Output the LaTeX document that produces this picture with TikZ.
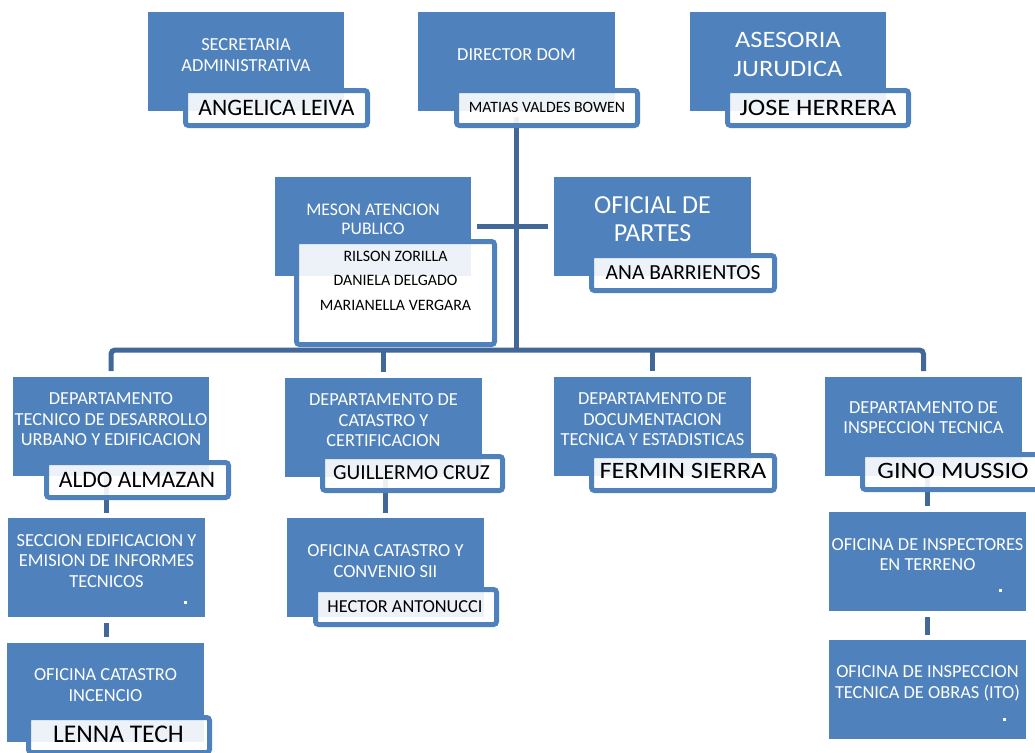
\documentclass[tikz,border=0pt]{standalone}
\usepackage{fontspec}
\setmainfont{Carlito}
\newfontfamily\widefont[FakeStretch=1.12]{Carlito}
\definecolor{boxblue}{RGB}{79,129,189}
\definecolor{connblue}{RGB}{65,104,152}
\tikzset{
  bluebox/.style={fill=boxblue, draw=none, inner sep=0pt, outer sep=0pt},
  namebox/.style={fill=white, fill opacity=0.9, draw=boxblue, draw opacity=1, line width=5pt, rounded corners=3pt, inner sep=0pt, outer sep=0pt},
  conn/.style={draw=connblue, line width=5pt},
  ttl/.style={text=white, anchor=base, inner sep=0pt, font=\fontsize{18.4}{20}\selectfont},
  nm/.style={text=black, anchor=base, inner sep=0pt},
  dotsq/.style={fill=white, draw=none, inner sep=0pt, minimum size=3pt}
}
\begin{document}
\begin{tikzpicture}[x=1pt,y=-1pt]
\fill[white] (0,0) rectangle (1035,752);
\useasboundingbox (0,0) rectangle (1035,752);

% blue boxes
\node[bluebox, minimum width=196pt, minimum height=99pt] (sec) at (246,61.5) {};
\node[bluebox, minimum width=197pt, minimum height=99pt] (dir) at (516.5,61.5) {};
\node[bluebox, minimum width=196pt, minimum height=99pt] (ase) at (788,61.5) {};
\node[bluebox, minimum width=196pt, minimum height=99pt] (mes) at (373,226.5) {};
\node[bluebox, minimum width=197pt, minimum height=99pt] (ofi) at (652.5,226.5) {};
\node[bluebox, minimum width=196pt, minimum height=99pt] (d1) at (111,426.5) {};
\node[bluebox, minimum width=197pt, minimum height=99pt] (d2) at (383.5,427.5) {};
\node[bluebox, minimum width=197pt, minimum height=99pt] (d3) at (652.5,426.5) {};
\node[bluebox, minimum width=197pt, minimum height=99pt] (d4) at (923.5,426.5) {};
\node[bluebox, minimum width=197pt, minimum height=99pt] (sec1) at (106.5,567.5) {};
\node[bluebox, minimum width=197pt, minimum height=99pt] (cat) at (105.5,692.5) {};
\node[bluebox, minimum width=197pt, minimum height=99pt] (conv) at (385.5,567.5) {};
\node[bluebox, minimum width=197pt, minimum height=99pt] (insp) at (927.5,561.5) {};
\node[bluebox, minimum width=197pt, minimum height=99pt] (ito) at (927.5,689.5) {};

% connectors
\coordinate (bus) at (516.5,350);
\draw[conn] ([yshift=-6pt]dir.south) -- (bus);
\draw[conn, rounded corners=4pt] ([yshift=6pt]d1.north) |- (bus) -| ([yshift=6pt]d4.north);
\draw[conn] ([yshift=6pt]d2.north) -- (d2.north |- bus);
\draw[conn] ([yshift=6pt]d3.north) -- (d3.north |- bus);
\draw[conn] ([xshift=6pt]mes.east) -- ([xshift=-6pt]ofi.west);
\draw[conn] ([yshift=5pt]sec1.north) -- ([yshift=5pt]sec1.north |- d1.south);
\draw[conn] ([yshift=-6pt]sec1.south) -- ([yshift=6pt]cat.north -| sec1.south);
\draw[conn] ([yshift=5pt]conv.north) -- (conv.north |- d2.south);
\draw[conn] ([yshift=6pt]insp.north) -- (insp.north |- d4.south);
\draw[conn] ([yshift=-6pt]insp.south) -- ([yshift=5pt]ito.north);

% name boxes
\node[namebox, minimum width=182pt, minimum height=35pt] (nsec) at (276.5,108) {};
\node[namebox, minimum width=181pt, minimum height=35pt] (ndir) at (547,108) {};
\node[namebox, minimum width=181pt, minimum height=35pt] (nase) at (818,108) {};
\node[namebox, minimum width=198pt, minimum height=103pt] (nmes) at (395.5,293) {};
\node[namebox, minimum width=183pt, minimum height=35pt] (nofi) at (683,273) {};
\node[namebox, minimum width=182pt, minimum height=35pt] (nd1) at (137.5,480) {};
\node[namebox, minimum width=180pt, minimum height=34pt] (nd2) at (412.5,473.5) {};
\node[namebox, minimum width=183pt, minimum height=35pt] (nd3) at (683,473) {};
\node[namebox, minimum width=181pt, minimum height=35pt] (nd4) at (953,472) {};
\node[namebox, minimum width=181pt, minimum height=35pt] (ncat) at (119,735) {};
\node[namebox, minimum width=181pt, minimum height=35pt] (nconv) at (406,607) {};

% titles
\node[ttl] (tsec1) at (246,50.7) {SECRETARIA};
\node[ttl] (tsec2) at (246,71) {ADMINISTRATIVA};
\node[ttl] (tdir) at (516.5,60) {DIRECTOR DOM};
\node[ttl, font=\widefont\fontsize{23.5}{26}\selectfont] (tase1) at (788,47.7) {ASESORIA};
\node[ttl, font=\widefont\fontsize{23.5}{26}\selectfont] (tase2) at (788,76.7) {JURUDICA};
\node[ttl, font=\fontsize{17.7}{20}\selectfont] (tmes1) at (373,215) {MESON ATENCION};
\node[ttl, font=\fontsize{17.7}{20}\selectfont] (tmes2) at (373,234.3) {PUBLICO};
\node[ttl, font=\fontsize{26}{30}\selectfont] (tofi1) at (652.5,213.3) {OFICIAL DE};
\node[ttl, font=\fontsize{26}{30}\selectfont] (tofi2) at (652.5,241.7) {PARTES};
\node[ttl] (td1a) at (111,404) {DEPARTAMENTO};
\node[ttl] (td1b) at (111,425) {TECNICO DE DESARROLLO};
\node[ttl] (td1c) at (111,445) {URBANO Y EDIFICACION};
\node[ttl] (td2a) at (383.5,405) {DEPARTAMENTO DE};
\node[ttl] (td2b) at (383.5,426) {CATASTRO Y};
\node[ttl] (td2c) at (383.5,446.5) {CERTIFICACION};
\node[ttl] (td3a) at (652.5,404) {DEPARTAMENTO DE};
\node[ttl] (td3b) at (652.5,425) {DOCUMENTACION};
\node[ttl] (td3c) at (652.5,445) {TECNICA Y ESTADISTICAS};
\node[ttl] (td4a) at (923.5,413.3) {DEPARTAMENTO DE};
\node[ttl] (td4b) at (923.5,433.3) {INSPECCION TECNICA};
\node[ttl] (tsa) at (106.5,546) {SECCION EDIFICACION Y};
\node[ttl] (tsb) at (106.5,566.7) {EMISION DE INFORMES};
\node[ttl] (tsc) at (106.5,587.3) {TECNICOS};
\node[ttl] (tca) at (105.5,680) {OFICINA CATASTRO};
\node[ttl] (tcb) at (105.5,701) {INCENCIO};
\node[ttl] (tva) at (385.5,556.7) {OFICINA CATASTRO Y};
\node[ttl] (tvb) at (385.5,577.3) {CONVENIO SII};
\node[ttl] (tia) at (927.5,550) {OFICINA DE INSPECTORES};
\node[ttl] (tib) at (927.5,570.7) {EN TERRENO};
\node[ttl] (toa) at (927.5,677.3) {OFICINA DE INSPECCION};
\node[ttl] (tob) at (927.5,698) {TECNICA DE OBRAS (ITO)};

% names
\node[nm, font=\fontsize{23.6}{26}\selectfont] (mnsec) at (276.5,115) {ANGELICA LEIVA};
\node[nm, font=\fontsize{15.8}{18}\selectfont] (mndir) at (547,112.7) {MATIAS VALDES BOWEN};
\node[nm, font=\widefont\fontsize{23.5}{26}\selectfont] (mnase) at (818,115) {JOSE HERRERA};
\node[nm, font=\fontsize{15.9}{18}\selectfont] (mnm1) at (395.5,261.7) {RILSON ZORILLA};
\node[nm, font=\fontsize{15.9}{18}\selectfont] (mnm2) at (395.5,285.7) {DANIELA DELGADO};
\node[nm, font=\fontsize{15.9}{18}\selectfont] (mnm3) at (395.5,310) {MARIANELLA VERGARA};
\node[nm, font=\fontsize{21.5}{24}\selectfont] (mnofi) at (683,279.5) {ANA BARRIENTOS};
\node[nm, font=\fontsize{23.6}{26}\selectfont] (mnd1) at (137,487) {ALDO ALMAZAN};
\node[nm, font=\fontsize{21.4}{24}\selectfont] (mnd2) at (411.5,479) {GUILLERMO CRUZ};
\node[nm, font=\widefont\fontsize{23.5}{26}\selectfont] (mnd3) at (683,478.5) {FERMIN SIERRA};
\node[nm, font=\widefont\fontsize{23.5}{26}\selectfont] (mnd4) at (953,478.3) {GINO MUSSIO};
\node[nm, font=\fontsize{18.3}{20}\selectfont] (mnconv) at (405,612) {HECTOR ANTONUCCI};
\node[nm, font=\fontsize{25.5}{28}\selectfont] (mncat) at (118.5,742.7) {LENNA TECH};

% small dots
\node[dotsq] (dot1) at (185,602) {};
\node[dotsq] (dot2) at (1000,590) {};
\node[dotsq] (dot3) at (1004,719) {};
\end{tikzpicture}
\end{document}
